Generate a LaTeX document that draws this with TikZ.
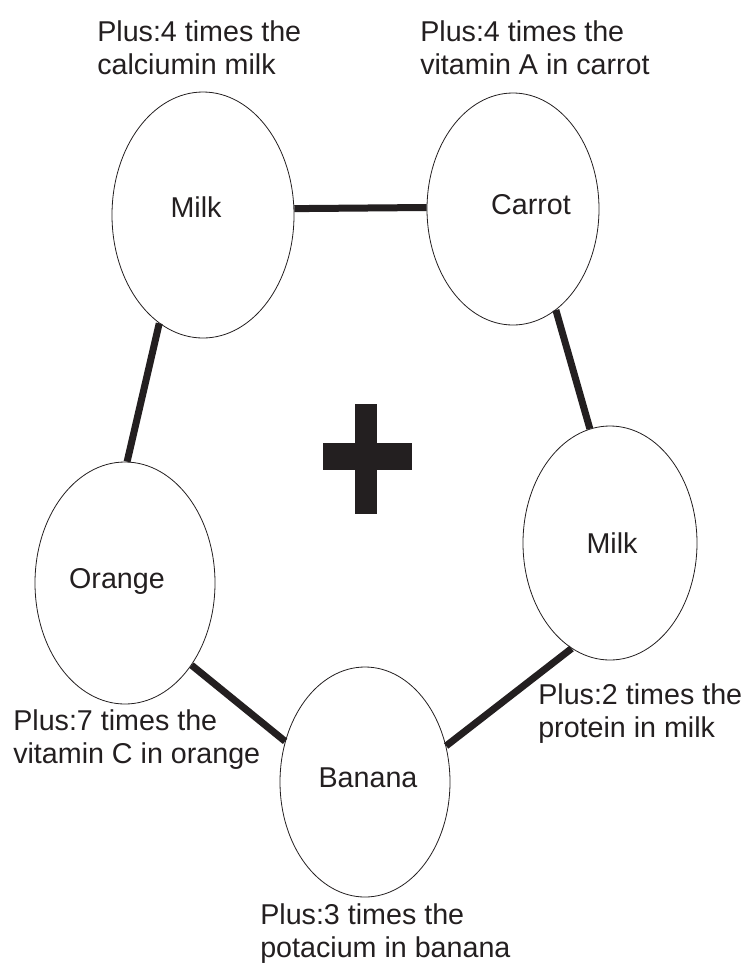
\documentclass[tikz,border=0pt]{standalone}
\usepackage{fontspec}
\setmainfont{Liberation Sans}
\usetikzlibrary{shapes.geometric}
\definecolor{ink}{RGB}{35,31,32}

\begin{document}
\begin{tikzpicture}[x=0.75pt,y=0.75pt,yscale=-1,xscale=1,
  fruit/.style={draw=ink,line width=0.6pt,ellipse,inner sep=0pt},
  link/.style={draw=ink,line width=5.25pt},
  notetext/.style={anchor=north west,inner sep=0pt,align=left,text=ink,font=\fontsize{21.5}{25}\selectfont},
  fruittext/.style={anchor=base,inner sep=0pt,text=ink,font=\fontsize{21.5}{25}\selectfont}]
\useasboundingbox (0,0) rectangle (747,965);

%Shape: Ellipse 
\node [fruit, minimum width=136.5pt, minimum height=184.5pt] (milkA) at (203,215) {};
%Shape: Ellipse 
\node [fruit, minimum width=129pt, minimum height=174pt] (carrot) at (513,209) {};
%Shape: Ellipse 
\node [fruit, minimum width=130.5pt, minimum height=175.5pt] (milkB) at (610,543) {};
%Shape: Ellipse 
\node [fruit, minimum width=127.5pt, minimum height=172.5pt] (banana) at (365,782) {};
%Shape: Ellipse 
\node [fruit, minimum width=135pt, minimum height=181.5pt] (orange) at (125,583) {};

%Straight Lines 
\draw [link] (milkA.4) -- (carrot.179) ;
%Straight Lines 
\draw [link] (carrot.-67) -- (milkB.100) ;
%Straight Lines 
\draw [link] (milkB.250) -- (banana.24) ;
%Straight Lines 
\draw [link] (banana.153) -- (orange.-51) ;
%Straight Lines 
\draw [link] (orange.89) -- (milkA.248) ;

%Shape: Plus 
\fill [ink] (355,404) rectangle (377,514) ;
\fill [ink] (323,443) rectangle (412,470) ;

% Text Node
\node [fruittext] (milkAtext) at (196,217) {Milk};
% Text Node
\node [fruittext] (carrottext) at (531,214) {Carrot};
% Text Node
\node [fruittext] (milkBtext) at (612,553) {Milk};
% Text Node
\node [fruittext] (bananatext) at (368,787) {Banana};
% Text Node
\node [fruittext] (orangetext) at (117,588) {Orange};

% Text Node
\node [notetext] (milkAnote) at (97,20) {Plus:4 times the\\calciumin milk};
% Text Node
\node [notetext] (carrotnote) at (420,20) {Plus:4 times the\\vitamin A in carrot};
% Text Node
\node [notetext] (milkBnote) at (538,683) {Plus:2 times the\\protein in milk};
% Text Node
\node [notetext] (bananatnote) at (260,903) {Plus:3 times the\\potacium in banana};
% Text Node
\node [notetext] (orangenote) at (13,709) {Plus:7 times the\\vitamin C in orange};

\end{tikzpicture}
\end{document}
